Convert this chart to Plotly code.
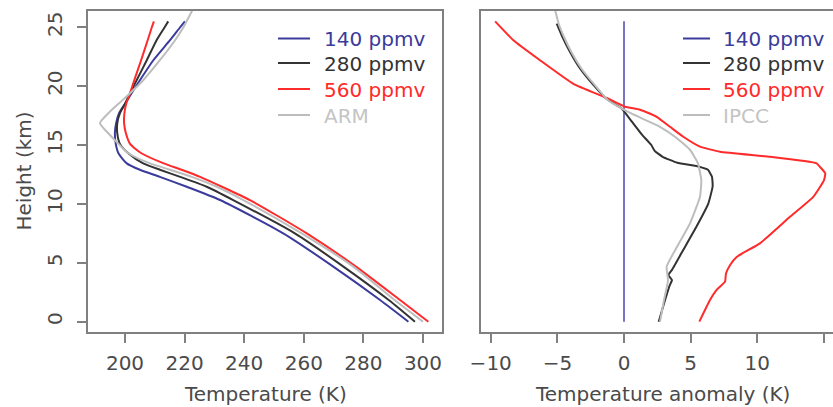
import plotly.graph_objects as go

# ---------------- data ----------------
# Left panel: temperature profiles (K) vs height (km)
h_left = [0, 1.84, 4.68, 7.5, 10.33, 11.46, 12.3, 12.9, 13.44, 14.3, 15.1, 16.0,
          16.84, 17.7, 18.5, 19.4, 20.5, 22.2, 23.9, 25.0, 25.5]
t_140 = [295.1, 285.6, 269.9, 253.1, 231.9, 220.7, 211.7, 205.0, 200.6, 197.8, 196.9,
         196.6, 197.0, 198.0, 200.0, 202.2, 205.0, 209.5, 215.1, 218.5, 220.1]
t_280 = [297.3, 288.5, 273.3, 257.0, 236.3, 227.4, 218.5, 211.7, 206.1, 201.1, 198.3,
         197.4, 197.4, 198.3, 200.0, 201.7, 203.9, 207.3, 210.6, 213.3, 214.5]
t_560 = [301.8, 292.3, 277.5, 261.0, 241.9, 232.5, 225.2, 219.0, 213.0, 205.5, 201.7,
         200.3, 199.7, 199.8, 200.4, 201.7, 203.1, 205.4, 207.6, 209.0, 209.7]
h_arm = [0, 1.84, 4.68, 7.5, 10.33, 11.46, 12.3, 12.9, 13.44, 14.3, 15.1, 16.0,
         16.84, 17.7, 18.5, 19.4, 20.5, 22.2, 23.9, 25.0, 26.6]
t_arm = [300.0, 290.5, 276.6, 259.3, 239.7, 230.8, 222.4, 215.1, 208.4, 201.1, 197.8,
         194.4, 191.6, 194.4, 197.8, 201.7, 206.1, 211.7, 216.8, 219.6, 222.9]

# Right panel: temperature anomaly (K) vs height (km)
h_a140 = [0, 25.5]
a_140 = [0, 0]
h_a280 = [0, 1.84, 3.0, 3.54, 3.96, 4.4, 6.1, 8.1, 10.05, 11.5, 12.3, 12.9, 13.2,
          13.5, 14.0, 14.5, 15.0, 15.9, 17.0, 18.1, 18.9, 20.1, 21.5, 22.9, 24.3, 25.3]
a_280 = [2.6, 3.08, 3.4, 3.6, 3.33, 3.6, 4.45, 5.45, 6.33, 6.65, 6.6, 6.3, 5.5,
         4.0, 2.9, 2.3, 2.05, 1.33, 0.58, -0.18, -1.3, -2.3, -3.3, -4.05, -4.67, -5.05]
h_a560 = [0, 1.84, 2.7, 3.4, 4.1, 4.8, 5.5, 6.65, 8.9, 10.6, 12.0, 12.6, 13.15,
          13.45, 14.0, 14.43, 14.86, 15.7, 16.55, 17.4, 18.0, 18.25, 19.0, 20.2,
          22.2, 23.9, 25.5]
a_560 = [5.65, 6.45, 6.95, 7.58, 7.65, 7.95, 8.45, 10.2, 12.45, 14.2, 15.0, 15.1,
         14.7, 14.45, 10.95, 7.2, 5.7, 4.45, 3.45, 2.45, 1.2, 0.08, -1.3, -3.8,
         -6.3, -8.3, -9.67]
h_ipcc = [0, 1.84, 3.5, 4.67, 5.8, 8.35, 10.6, 12.0, 13.45, 14.6, 15.6, 16.55,
          17.7, 18.8, 20.1, 21.5, 22.9, 24.3, 25.3, 26.6]
a_ipcc = [2.7, 3.0, 3.3, 3.2, 3.7, 4.95, 5.7, 5.8, 5.55, 4.95, 3.95, 2.7,
          0.5, -1.2, -2.2, -3.2, -3.95, -4.55, -4.9, -5.2]

left_ticks = [200, 220, 240, 260, 280, 300]
right_ticks = [-10, -5, 0, 5, 10, 15]
height_ticks = [0, 5, 10, 15, 20, 25]

names = ["140 ppmv", "280 ppmv", "560 ppmv"]
ref_left = "ARM"
ref_right = "IPCC"

# ---------------- styling ----------------
W, H = 833, 407
FONT = "DejaVu Sans"
C_BLUE = "#3b3b9c"
C_BLUE_LIGHT = "#7575c0"
C_BLACK = "#333333"
C_RED = "#ff2a2a"
C_GRAY = "#bdbdbd"
TXT = "#4a4a4a"
AX = "#808080"


def px_x(p):
    return p / W


def px_y(p):
    return 1 - p / H


fig = go.Figure()

lw = 2
left_series = [(t_140, h_left, names[0], C_BLUE), (t_280, h_left, names[1], C_BLACK),
               (t_560, h_left, names[2], C_RED), (t_arm, h_arm, ref_left, C_GRAY)]
for xs, ys, nm, col in left_series:
    fig.add_trace(go.Scatter(x=xs, y=ys, mode="lines", name=nm,
                             line=dict(color=col, width=lw, shape="spline", smoothing=0.6),
                             xaxis="x", yaxis="y"))

right_series = [(a_140, h_a140, names[0], C_BLUE_LIGHT), (a_280, h_a280, names[1], C_BLACK),
                (a_560, h_a560, names[2], C_RED), (a_ipcc, h_ipcc, ref_right, C_GRAY)]
for xs, ys, nm, col in right_series:
    fig.add_trace(go.Scatter(x=xs, y=ys, mode="lines", name=nm,
                             line=dict(color=col, width=lw, shape="spline", smoothing=0.4),
                             xaxis="x2", yaxis="y2"))

# ---------------- manual legends (R-style) ----------------
row_y = [38.5, 63, 89, 115]
legend_cols = [C_BLUE, C_BLACK, C_RED, C_GRAY]
text_cols = [C_BLUE, C_BLACK, C_RED, "#c4c4c4"]
shapes = []
annotations = []
for labels, x0, x1, xt in [(names + [ref_left], 278, 310, 322),
                           (names + [ref_right], 683, 710, 721)]:
    for i, lab in enumerate(labels):
        shapes.append(dict(type="line", xref="paper", yref="paper",
                           x0=px_x(x0), x1=px_x(x1), y0=px_y(row_y[i]), y1=px_y(row_y[i]),
                           line=dict(color=legend_cols[i], width=2)))
        annotations.append(dict(text=lab, x=px_x(xt), y=px_y(row_y[i] + 0.5),
                                xref="paper", yref="paper", showarrow=False,
                                xanchor="left", yanchor="middle",
                                font=dict(family=FONT, size=20, color=text_cols[i])))

annotations += [
    dict(text="Temperature (K)", x=px_x(265), y=px_y(394), xref="paper", yref="paper",
         showarrow=False, xanchor="center", yanchor="middle",
         font=dict(family=FONT, size=20, color=TXT)),
    dict(text="Temperature anomaly (K)", x=px_x(662), y=px_y(394), xref="paper",
         yref="paper", showarrow=False, xanchor="center", yanchor="middle",
         font=dict(family=FONT, size=20, color=TXT)),
    dict(text="Height (km)", x=px_x(23), y=px_y(171.5), xref="paper", yref="paper",
         showarrow=False, xanchor="center", yanchor="middle", textangle=-90,
         font=dict(family=FONT, size=20, color=TXT)),
]

y_dom = [1 - 332 / H, 1 - 11 / H]
axis_common = dict(showgrid=False, zeroline=False, showline=True, linecolor=AX,
                   linewidth=2, ticks="outside", ticklen=9, tickwidth=2, tickcolor=AX,
                   tickfont=dict(family=FONT, size=20, color=TXT))

fig.update_layout(
    width=W, height=H, margin=dict(l=0, r=0, t=0, b=0, autoexpand=False),
    paper_bgcolor="white", plot_bgcolor="white", showlegend=False,
    xaxis=dict(domain=[px_x(88), px_x(442)], range=[187.58, 306.38],
               tickmode="array", tickvals=left_ticks, anchor="y", mirror=True,
               ticklabelstandoff=3, **axis_common),
    yaxis=dict(domain=y_dom, range=[-0.875, 26.38], tickmode="array",
               tickvals=height_ticks, tickangle=-90, anchor="x", mirror=True,
               ticklabelstandoff=7, **axis_common),
    xaxis2=dict(domain=[px_x(481), 1.0], range=[-10.73, 15.68], tickmode="array",
                tickvals=right_ticks, anchor="y2", mirror=True, ticklabelstandoff=3,
                **axis_common),
    yaxis2=dict(domain=y_dom, range=[-0.875, 26.38], anchor="x2", showgrid=False,
                zeroline=False, showline=True, linecolor=AX, linewidth=2,
                showticklabels=False, ticks=""),
    shapes=shapes,
    annotations=annotations,
)

fig.write_html("out.html")
